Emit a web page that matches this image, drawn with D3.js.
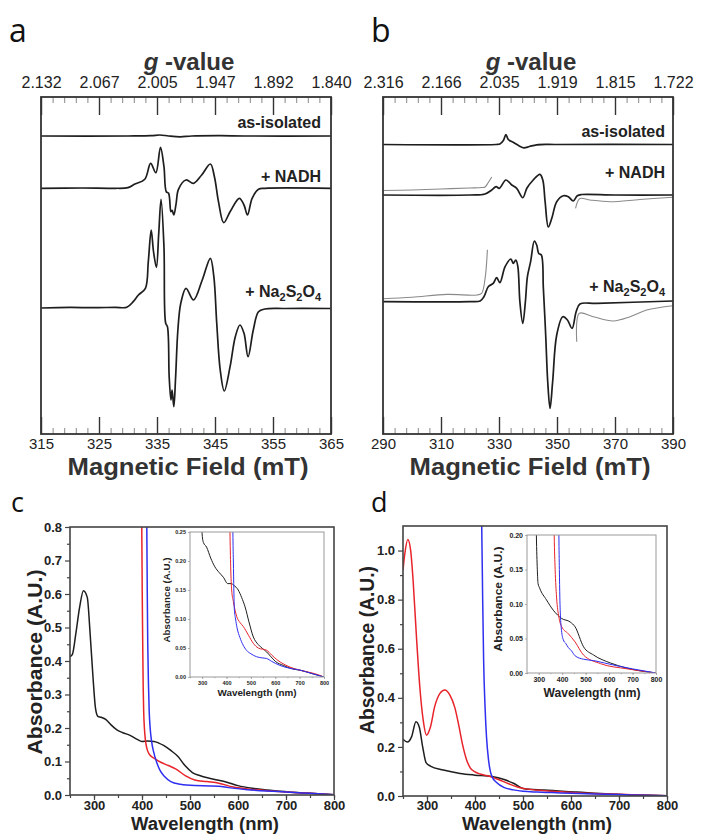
<!DOCTYPE html>
<html>
<head>
<meta charset="utf-8">
<script src="https://cdnjs.cloudflare.com/ajax/libs/d3/7.8.5/d3.min.js"></script>
<style>
body { margin: 0; background: #fff; }
svg { display: block; font-family: "Liberation Sans", Arial, sans-serif; }
</style>
</head>
<body>
<div id="chart"></div>
<script>
// ---------- EPR (panels a, b): field in mT, signal in a.u. ----------
var fieldTicksA = [315, 325, 335, 345, 355, 365];
var gLabelsA = ["2.132", "2.067", "2.005", "1.947", "1.892", "1.840"];
var fieldTicksB = [290, 310, 330, 350, 370, 390];
var gLabelsB = ["2.316", "2.166", "2.035", "1.919", "1.815", "1.722"];
var traceNames = ["as-isolated", "+ NADH", "+ Na2S2O4"];
var offsetsA = [298, 245.7, 126];
var offsetsB = [289.5, 239, 132.3];

var eprA_isolated = [[315,0],[330,0],[334,0.3],[335.5,1],[337,0],[339,-0.8],[341,0],[346,0.3],[350,0],[365,0]];
var eprA_nadh = [[315,0],[322,0.3],[327.8,0],[330,0.7],[331.2,4.3],[332.9,9],[333.9,25],[334.8,15.6],[335.6,41],[336.2,21.6],
  [336.6,-3.4],[337,-5],[337.4,-23.4],[337.6,-22],[337.9,-26.7],[338.3,-15],[338.7,-1],[340,8.3],[341.3,5],[342.7,13.3],
  [344.2,24.3],[344.9,11.6],[345.6,-13.4],[346.5,-34.4],[347.6,-23.4],[349.2,-10],[350,-16.7],[350.6,-26.7],[351.4,-10],
  [352.5,-1],[353.6,0],[365,0]];
var eprA_dithionite = [[315,0],[320,0.6],[324,0.3],[327.8,0.7],[329.8,0.7],[330.9,6.3],[331.8,13],[333,19.7],[333.5,46.3],
  [334,78],[334.4,56.3],[334.9,40.7],[335.3,74.7],[335.7,108.7],[336.2,61.3],[336.5,-15.3],[336.8,-18.7],[337.1,-68.7],
  [337.4,-92],[337.6,-82],[337.9,-98.7],[338.2,-70.3],[338.6,-22],[339.1,4.7],[340,19.7],[341.3,8],[342.8,28],[344.2,49.7],
  [344.8,31.3],[345.3,-15.3],[345.9,-62],[346.6,-83],[347.6,-58.7],[348.5,-28.7],[349.3,-17],[350,-25.3],[350.7,-48.7],
  [351.6,-22],[352.5,-3.7],[353.6,-1],[357,-0.5],[365,-0.5]];

var eprB_isolated = [[290,0],[329,0],[330.3,0.5],[331.5,4],[332.4,10],[333.2,5],[335,2],[337,-1.5],[338.6,-3.3],[340.5,-2],[343,-0.3],[350,0],[390,0]];
var eprB_nadh = [[290,0],[320,0],[325.2,1],[327.5,5],[329,8.3],[330.1,6.7],[332.4,15],[334.4,10],[336.1,6.7],[338.2,-2.7],
  [339.6,6.7],[341.8,15],[344.1,20.7],[345.1,15],[345.9,-6.7],[347,-32],[348.2,-23.3],[349.9,-6.7],[352.2,-0.7],[353.9,-1.7],
  [355.6,-6],[357,-0.7],[358.5,0.5],[370,0],[390,0]];
var eprB_nadhZoomL = [[290,4.5],[300,5],[310,6],[320,7],[324,7.5],[325.2,8],[326.2,12],[327.5,18]];
var eprB_nadhZoomR = [[356.4,-13.3],[357.9,-3.5],[361.4,-5],[368.3,-6.7],[378.6,-4.5],[390,-2.3]];
var eprB_dithionite = [[290,0],[320,0],[323.5,0.7],[324.8,5],[326.3,15],[328,18.3],[329.2,24],[330.3,19],[332.1,35],[334.1,42.7],
  [334.9,38.3],[335.8,41.7],[336.5,35],[337.2,0],[338.2,-21.7],[339.1,0],[339.8,25],[340.9,40],[342.2,60.7],[343,56.7],
  [343.7,48.3],[344.6,46.7],[345.3,13.3],[346.1,-33.3],[346.8,-80],[347.6,-106.7],[348.5,-80],[349.9,-33.3],[352,-15],
  [353.6,-18.3],[355.2,-26.7],[356.6,-10],[357.9,-2.3],[363.7,-1.7],[390,0.7]];
var eprB_dithioniteZoomL = [[290,3],[300,4.5],[312,7.3],[322.3,6.7],[324,8.3],[325.2,23.3],[326,52]];
var eprB_dithioniteZoomR = [[356.8,-40],[357.7,-11.6],[362.5,-15],[369.4,-19.3],[375.2,-15],[380.9,-8.3],[390,-4]];

// ---------- UV-vis (panels c, d): wavelength in nm, absorbance ----------
var wlTicks = [300, 400, 500, 600, 700, 800];
var uvC_black = [[250,0.413],[255,0.42],[262,0.48],[270,0.56],[278,0.61],[286,0.59],[292,0.48],[298,0.35],[303,0.26],[308,0.235],
  [315,0.232],[325,0.225],[335,0.21],[347,0.195],[360,0.186],[375,0.178],[390,0.166],[400,0.16],[412,0.161],[425,0.16],
  [435,0.155],[445,0.148],[460,0.133],[475,0.115],[490,0.087],[505,0.067],[520,0.058],[540,0.05],[560,0.044],[575,0.039],
  [600,0.028],[630,0.02],[660,0.015],[700,0.01],[750,0.005],[800,0.001]];
var uvC_red = [[398.5,0.9],[399.5,0.8],[400.5,0.6],[401.5,0.45],[402.5,0.32],[403.5,0.25],[405,0.2],[407,0.165],[410,0.14],
  [415,0.122],[425,0.11],[440,0.097],[455,0.088],[470,0.078],[490,0.058],[510,0.045],[535,0.04],[560,0.035],[590,0.024],
  [620,0.018],[660,0.013],[700,0.009],[750,0.005],[800,0.001]];
var uvC_blue = [[409,0.9],[410,0.8],[411,0.6],[412,0.45],[413.5,0.33],[415,0.25],[417,0.2],[420,0.16],[424,0.13],[430,0.1],
  [437,0.075],[447,0.055],[460,0.04],[480,0.032],[510,0.028],[540,0.027],[560,0.026],[580,0.022],[620,0.016],[660,0.012],
  [700,0.009],[750,0.005],[800,0.001]];
var insetC_black = [[296,0.28],[298,0.26],[300,0.245],[305,0.232],[318,0.224],[335,0.205],[352,0.19],[370,0.18],[387,0.172],
  [405,0.161],[420,0.161],[430,0.158],[448,0.15],[462,0.137],[476,0.121],[492,0.095],[510,0.069],[530,0.056],[548,0.049],
  [565,0.043],[580,0.036],[600,0.027],[633,0.02],[670,0.014],[702,0.0116],[750,0.006],[800,0.0]];
var insetC_red = [[412,0.3],[414,0.25],[417,0.19],[421,0.15],[428,0.13],[435,0.115],[442,0.104],[455,0.094],[469,0.087],
  [490,0.072],[510,0.058],[530,0.05],[565,0.046],[585,0.038],[606,0.03],[640,0.021],[674,0.015],[720,0.01],[760,0.006],[800,0.0]];
var insetC_blue = [[425,0.3],[426,0.25],[428,0.2],[430,0.15],[432,0.117],[437,0.1],[443,0.085],[455,0.068],[468,0.055],
  [482,0.046],[500,0.04],[523,0.035],[545,0.033],[564,0.032],[585,0.027],[619,0.02],[660,0.015],[701,0.012],[750,0.006],[800,0.0]];

var uvD_black = [[250,0.231],[259,0.22],[268,0.242],[277,0.303],[284,0.28],[291,0.2],[298,0.136],[307,0.122],[334,0.106],
  [369,0.092],[400,0.085],[435,0.079],[459,0.068],[480,0.052],[500,0.031],[543,0.024],[612,0.016],[681,0.008],[800,0.001]];
var uvD_red = [[250,0.92],[254,0.99],[260,1.045],[266,1.0],[271,0.88],[278,0.65],[285,0.445],[292,0.31],[299,0.248],[307,0.28],
  [316,0.364],[327,0.418],[337,0.432],[348,0.41],[358,0.36],[366,0.29],[374,0.21],[382,0.15],[390,0.115],[400,0.098],
  [410,0.09],[420,0.085],[435,0.077],[450,0.066],[470,0.05],[490,0.036],[510,0.028],[540,0.022],[580,0.017],[620,0.012],
  [680,0.008],[740,0.004],[800,0.001]];
var uvD_blue = [[412,1.2],[414,1.1],[416,0.8],[418,0.55],[421,0.36],[424,0.24],[428,0.15],[432,0.1],[436,0.077],[445,0.055],
  [460,0.035],[480,0.025],[500,0.019],[530,0.016],[560,0.014],[600,0.011],[650,0.008],[700,0.006],[750,0.003],[800,0.001]];
var insetD_black = [[289,0.22],[290,0.2],[294,0.15],[297,0.13],[304,0.123],[333,0.106],[362,0.091],[398,0.079],[434,0.074],
  [455,0.067],[491,0.038],[534,0.026],[606,0.0145],[677,0.007],[800,0.0]];
var insetD_red = [[364,0.25],[366,0.2],[370,0.15],[376,0.11],[386,0.081],[398,0.067],[426,0.057],[455,0.045],[491,0.026],
  [563,0.0136],[678,0.006],[800,0.0]];
var insetD_blue = [[384,0.3],[386,0.2],[388,0.15],[390,0.11],[393,0.08],[397,0.062],[405,0.048],[415,0.043],[426,0.037],
  [440,0.032],[455,0.025],[490,0.02],[534,0.018],[580,0.0145],[640,0.01],[700,0.006],[800,0.0]];

var RED = '#e8242b', BLUE = '#2f2ff0', BLACK = '#1e1e1e';

var svg = d3.select('#chart').append('svg')
    .attr('width', 717)
    .attr('height', 834);

function panelLetter(txt, x, y, size) {
    svg.append('text')
        .attr('x', x).attr('y', y)
        .style('font-family', '"Open Sans", "Noto Sans", sans-serif')
        .style('font-size', size + 'px')
        .attr('fill', '#111')
        .text(txt);
}

function addTraceLabel(g, name, x, y) {
    var t = g.append('text')
        .attr('x', x).attr('y', y)
        .attr('text-anchor', 'end')
        .style('font-size', '16px')
        .style('font-weight', 'bold')
        .attr('fill', '#222');
    if (name.indexOf('Na2S2O4') < 0) {
        t.text(name);
        return;
    }
    t.append('tspan').text('+ Na');
    t.append('tspan').attr('dy', 4).style('font-size', '11px').text('2');
    t.append('tspan').attr('dy', -4).text('S');
    t.append('tspan').attr('dy', 4).style('font-size', '11px').text('2');
    t.append('tspan').attr('dy', -4).text('O');
    t.append('tspan').attr('dy', 4).style('font-size', '11px').text('4');
}

function drawEPR(p) {
    var top = 97, bottom = 434;
    var x = d3.scaleLinear().domain(p.domain).range([p.left, p.right]);
    var y = d3.scaleLinear().domain([0, 337]).range([bottom, top]);
    var g = svg.append('g');

    var minor = d3.range(p.domain[0], p.domain[1] + 0.01, p.minorStep);

    // minor ticks, bottom and top (pointing inward)
    g.append('g').attr('class', 'minor')
        .attr('transform', 'translate(0,' + bottom + ')')
        .call(d3.axisBottom(x).tickValues(minor).tickSize(-6).tickSizeOuter(0).tickFormat(''));
    g.append('g').attr('class', 'minor')
        .attr('transform', 'translate(0,' + top + ')')
        .call(d3.axisTop(x).tickValues(minor).tickSize(-6).tickSizeOuter(0).tickFormat(''));

    // major ticks with field labels
    g.append('g').attr('class', 'major field')
        .attr('transform', 'translate(0,' + bottom + ')')
        .call(d3.axisBottom(x).tickValues(p.ticks).tickSize(-17).tickSizeOuter(0).tickPadding(4.3));
    // major ticks with g-value labels
    g.append('g').attr('class', 'major gval')
        .attr('transform', 'translate(0,' + top + ')')
        .call(d3.axisTop(x).tickValues(p.ticks).tickSize(-18).tickSizeOuter(0).tickPadding(9)
            .tickFormat(function(d, i) { return p.gLabels[i]; }));

    g.selectAll('.domain').remove();
    g.selectAll('.minor line').attr('stroke', '#888').attr('stroke-width', 1);
    g.selectAll('.major line').attr('stroke', '#333').attr('stroke-width', 1.4);
    g.selectAll('.major text')
        .style('font-family', '"Liberation Sans", Arial, sans-serif')
        .attr('fill', '#222');
    g.selectAll('.gval text').style('font-size', '16px');
    g.selectAll('.field text').style('font-size', '15px');

    var line = d3.line()
        .x(function(d) { return x(d[0]); })
        .curve(d3.curveCatmullRom.alpha(0.5));

    p.traces.forEach(function(tr) {
        line.y(function(d) { return y(tr.offset + d[1]); });
        g.append('path')
            .datum(tr.data)
            .attr('d', line)
            .attr('fill', 'none')
            .attr('stroke', tr.gray ? '#8a8a8a' : BLACK)
            .attr('stroke-width', tr.gray ? 1.1 : 1.7)
            .attr('stroke-linejoin', 'round');
    });

    g.append('rect')
        .attr('x', p.left).attr('y', top)
        .attr('width', p.right - p.left).attr('height', bottom - top)
        .attr('fill', 'none').attr('stroke', '#333').attr('stroke-width', 1.8);

    traceNames.forEach(function(n, i) {
        addTraceLabel(g, n, p.labelX, p.labelY[i]);
    });

    var cx = (p.left + p.right) / 2;
    var gt = g.append('text')
        .attr('x', cx + 3).attr('y', 70)
        .attr('text-anchor', 'middle')
        .style('font-size', '24px')
        .style('font-weight', 'bold')
        .attr('fill', '#333');
    gt.append('tspan').style('font-style', 'italic').text('g');
    gt.append('tspan').text(' -value');

    g.append('text')
        .attr('x', cx + 2).attr('y', 475)
        .attr('text-anchor', 'middle')
        .attr('textLength', 241)
        .attr('lengthAdjust', 'spacingAndGlyphs')
        .style('font-size', '24.5px')
        .style('font-weight', 'bold')
        .attr('fill', '#333')
        .text('Magnetic Field (mT)');
}

function drawUV(p) {
    var x = d3.scaleLinear().domain([250, 800]).range([p.left, p.right]);
    var y = d3.scaleLinear().domain([0, p.yMax]).range([p.bottom, p.top]);
    var g = svg.append('g');

    svg.append('clipPath').attr('id', 'clip-' + p.name)
        .append('rect')
        .attr('x', p.left).attr('y', p.top)
        .attr('width', p.right - p.left).attr('height', p.bottom - p.top);

    // minor ticks
    g.append('g').attr('class', 'minor')
        .attr('transform', 'translate(' + p.left + ',0)')
        .call(d3.axisLeft(y).tickValues(p.yMinor).tickSize(p.minorSize).tickSizeOuter(0).tickFormat(''));
    g.append('g').attr('class', 'minor')
        .attr('transform', 'translate(0,' + p.bottom + ')')
        .call(d3.axisBottom(x).tickValues(d3.range(250, 801, 50)).tickSize(p.minorSize).tickSizeOuter(0).tickFormat(''));
    // major ticks
    g.append('g').attr('class', 'major ' + p.name + '-y')
        .attr('transform', 'translate(' + p.left + ',0)')
        .call(d3.axisLeft(y).tickValues(p.yTicks).tickSize(p.majorSize).tickSizeOuter(0)
            .tickPadding(p.pad).tickFormat(d3.format(p.yFormat)));
    g.append('g').attr('class', 'major')
        .attr('transform', 'translate(0,' + p.bottom + ')')
        .call(d3.axisBottom(x).tickValues(wlTicks).tickSize(p.majorSize).tickSizeOuter(0).tickPadding(p.padX));

    g.selectAll('.domain').remove();
    g.selectAll('line').attr('stroke', p.frameColor).attr('stroke-width', p.inset ? 0.8 : 1.2);
    g.selectAll('.major text')
        .style('font-size', p.tickFont + 'px')
        .style('font-weight', 'bold')
        .style('font-family', '"Liberation Sans", Arial, sans-serif')
        .attr('fill', '#222');

    var line = d3.line()
        .x(function(d) { return x(d[0]); })
        .y(function(d) { return y(d[1]); })
        .curve(d3.curveMonotoneX);

    var lines = g.append('g').attr('clip-path', 'url(#clip-' + p.name + ')');
    p.series.forEach(function(s) {
        lines.append('path')
            .datum(s.data)
            .attr('d', line)
            .attr('fill', 'none')
            .attr('stroke', s.color)
            .attr('stroke-width', p.inset ? 1.0 : 1.5);
    });

    g.append('rect')
        .attr('x', p.left).attr('y', p.top)
        .attr('width', p.right - p.left).attr('height', p.bottom - p.top)
        .attr('fill', 'none').attr('stroke', p.frameColor).attr('stroke-width', p.inset ? 1 : 1.6);

    g.append('text')
        .attr('transform', 'translate(' + p.yLabel[0] + ',' + p.yLabel[1] + ') rotate(-90)')
        .attr('text-anchor', 'middle')
        .attr('textLength', p.yLabel[2])
        .attr('lengthAdjust', 'spacingAndGlyphs')
        .style('font-size', p.labelFont + 'px')
        .style('font-weight', 'bold')
        .attr('fill', '#222')
        .text('Absorbance (A.U.)');

    g.append('text')
        .attr('x', p.xLabel[0]).attr('y', p.xLabel[1])
        .attr('text-anchor', 'middle')
        .attr('textLength', p.xLabel[2])
        .attr('lengthAdjust', 'spacingAndGlyphs')
        .style('font-size', p.xLabelFont + 'px')
        .style('font-weight', 'bold')
        .attr('fill', '#222')
        .text('Wavelength (nm)');
}

// ---------- panels ----------
panelLetter('a', 9, 42, 32);
panelLetter('b', 371, 42, 32);
panelLetter('c', 11, 512, 27);
panelLetter('d', 371, 512, 27);

drawEPR({
    domain: [315, 365], left: 41, right: 331, minorStep: 2,
    ticks: fieldTicksA, gLabels: gLabelsA,
    labelX: 321, labelY: [128, 182, 297],
    traces: [
        { data: eprA_isolated, offset: offsetsA[0] },
        { data: eprA_nadh, offset: offsetsA[1] },
        { data: eprA_dithionite, offset: offsetsA[2] }
    ]
});

drawEPR({
    domain: [290, 390], left: 383, right: 673, minorStep: 4,
    ticks: fieldTicksB, gLabels: gLabelsB,
    labelX: 665, labelY: [137, 178, 292],
    traces: [
        { data: eprB_nadhZoomL, offset: offsetsB[1], gray: true },
        { data: eprB_nadhZoomR, offset: offsetsB[1], gray: true },
        { data: eprB_dithioniteZoomL, offset: offsetsB[2], gray: true },
        { data: eprB_dithioniteZoomR, offset: offsetsB[2], gray: true },
        { data: eprB_isolated, offset: offsetsB[0] },
        { data: eprB_nadh, offset: offsetsB[1] },
        { data: eprB_dithionite, offset: offsetsB[2] }
    ]
});

drawUV({
    name: 'c', left: 70, right: 334, top: 527, bottom: 795, yMax: 0.8,
    yTicks: d3.range(0, 0.81, 0.1), yMinor: d3.range(0.05, 0.8, 0.1), yFormat: '.1f',
    majorSize: 5, minorSize: 3, pad: 3, padX: 0.6, tickFont: 13, frameColor: '#444',
    labelFont: 21, yLabel: [41.5, 662, 185], xLabelFont: 18.8, xLabel: [205, 829.8, 148],
    series: [
        { data: uvC_black, color: BLACK },
        { data: uvC_red, color: RED },
        { data: uvC_blue, color: BLUE }
    ]
});

drawUV({
    name: 'ci', inset: true, left: 190, right: 324, top: 532, bottom: 677, yMax: 0.25,
    yTicks: d3.range(0, 0.26, 0.05), yMinor: [], yFormat: '.2f',
    majorSize: 2, minorSize: 1.2, pad: 2, padX: 2, tickFont: 5.5, frameColor: '#999',
    labelFont: 8.7, yLabel: [170, 600, 85], xLabelFont: 9.8, xLabel: [257, 696, 79],
    series: [
        { data: insetC_black, color: BLACK },
        { data: insetC_red, color: RED },
        { data: insetC_blue, color: BLUE }
    ]
});

drawUV({
    name: 'd', left: 403, right: 667, top: 526, bottom: 796, yMax: 1.1,
    yTicks: d3.range(0, 1.01, 0.2), yMinor: d3.range(0.1, 1.1, 0.2), yFormat: '.1f',
    majorSize: 5, minorSize: 3, pad: 3, padX: -0.4, tickFont: 13, frameColor: '#444',
    labelFont: 21, yLabel: [373.5, 650, 168], xLabelFont: 18.8, xLabel: [537, 829.8, 150],
    series: [
        { data: uvD_black, color: BLACK },
        { data: uvD_red, color: RED },
        { data: uvD_blue, color: BLUE }
    ]
});

drawUV({
    name: 'di', inset: true, left: 527, right: 656, top: 535, bottom: 673, yMax: 0.2,
    yTicks: d3.range(0, 0.201, 0.05), yMinor: [], yFormat: '.2f',
    majorSize: 2, minorSize: 1.2, pad: 2, padX: 2, tickFont: 7, frameColor: '#999',
    labelFont: 10.8, yLabel: [502, 599, 105], xLabelFont: 12, xLabel: [592, 697, 97],
    series: [
        { data: insetD_black, color: BLACK },
        { data: insetD_red, color: RED },
        { data: insetD_blue, color: BLUE }
    ]
});
</script>
</body>
</html>
